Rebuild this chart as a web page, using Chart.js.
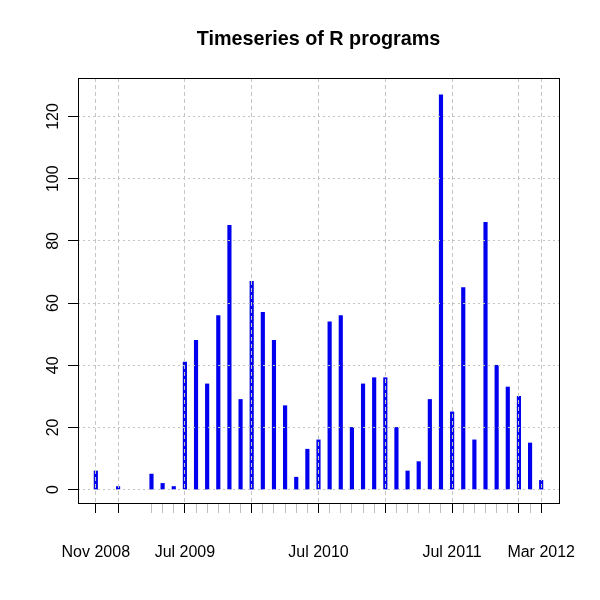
<!DOCTYPE html>
<html>
<head>
<meta charset="utf-8">
<script src="https://cdn.jsdelivr.net/npm/chart.js@4"></script>
<style>
html,body{margin:0;padding:0;background:#fff;}
canvas{display:block;}
</style>
</head>
<body>
<canvas id="c" width="600" height="600"></canvas>
<script>
// ---- data ----
const months = [
  "2008-11","2009-01","2009-04","2009-05","2009-06","2009-07","2009-08","2009-09","2009-10","2009-11","2009-12",
  "2010-01","2010-02","2010-03","2010-04","2010-05","2010-06","2010-07","2010-08","2010-09","2010-10","2010-11","2010-12",
  "2011-01","2011-02","2011-03","2011-04","2011-05","2011-06","2011-07","2011-08","2011-09","2011-10","2011-11","2011-12",
  "2012-01","2012-02","2012-03"
];
const programs = [
  6, 1, 5, 2, 1, 41, 48, 34, 56, 85, 29,
  67, 57, 48, 27, 4, 13, 16, 54, 56, 20, 34, 36,
  36, 20, 6, 9, 29, 127, 25, 65, 16, 86, 40, 33,
  30, 15, 3
];
const majorMonths = ["2008-11","2009-01","2009-07","2010-01","2010-07","2011-01","2011-07","2012-01","2012-03"];
const labelMonths = {"2008-11":"Nov 2008","2009-07":"Jul 2009","2010-07":"Jul 2010","2011-07":"Jul 2011","2012-03":"Mar 2012"};
const yTicks = [0, 20, 40, 60, 80, 100, 120];

// ---- helpers ----
function monthIndex(s){ const [y,m] = s.split("-").map(Number); return (y-2008)*12 + (m-11); }
const points = months.map((m,i) => ({x: monthIndex(m), y: programs[i]}));
const majorIdx = majorMonths.map(monthIndex);
const labelByIdx = {};
Object.keys(labelMonths).forEach(k => { labelByIdx[monthIndex(k)] = labelMonths[k]; });
const allTickIdx = Array.from(new Set(majorIdx.concat(months.map(monthIndex)))).sort((a,b)=>a-b);
const FONT = '"Liberation Sans", Arial, sans-serif';
const GRID = '#c4c4c4';

const framePlugin = {
  id: 'frame',
  afterDraw(chart){
    const {ctx, chartArea:a} = chart;
    ctx.save();
    ctx.strokeStyle = '#000'; ctx.lineWidth = 1;
    ctx.strokeRect(Math.round(a.left)+0.5, Math.round(a.top)+0.5, Math.round(a.right-a.left), Math.round(a.bottom-a.top));
    // rotated y tick labels (R style)
    const ys = chart.scales.y;
    ctx.fillStyle = '#000';
    ctx.font = '16px ' + FONT;
    ctx.textAlign = 'center';
    ctx.textBaseline = 'alphabetic';
    ys.ticks.forEach(t => {
      const py = ys.getPixelForValue(t.value);
      ctx.save();
      ctx.translate(57.5, py);
      ctx.rotate(-Math.PI/2);
      ctx.fillText(String(t.value), 0, 0);
      ctx.restore();
    });
    ctx.restore();
  }
};

new Chart(document.getElementById('c'), {
  type: 'bar',
  data: {
    datasets: [{
      data: points,
      backgroundColor: '#0000ee',
      borderWidth: 0,
      barThickness: 3.5
    }]
  },
  options: {
    responsive: false,
    animation: false,
    events: [],
    layout: { padding: { left: 78, right: 41, top: 0, bottom: 0 } },
    plugins: {
      legend: { display: false },
      tooltip: { enabled: false },
      title: {
        display: true,
        text: 'Timeseries of R programs',
        color: '#000',
        font: { family: FONT, size: 19.8, weight: 'bold' },
        padding: { top: 27.7, bottom: 26.5 }
      }
    },
    scales: {
      x: {
        type: 'linear',
        min: -1.6, max: 41.6,
        offset: false,
        afterBuildTicks(s){ s.ticks = allTickIdx.map(v => ({value: v})); },
        afterFit(s){ s.height = 97; s.paddingLeft = 0; s.paddingRight = 0; },
        border: { display: false, dash: [4, 3] },
        grid: {
          z: 1,
          offset: false,
          tickLength: 10,
          color: ctx => (ctx.tick && majorIdx.includes(ctx.tick.value)) ? GRID : 'rgba(0,0,0,0)',
          tickColor: ctx => (ctx.tick && majorIdx.includes(ctx.tick.value)) ? '#000' : '#c0c0c0',
          tickBorderDash: [0, 0]
        },
        ticks: {
          autoSkip: false,
          maxRotation: 0, minRotation: 0,
          padding: 30,
          color: '#000',
          font: { family: FONT, size: 16 },
          callback: v => labelByIdx[v] || ''
        }
      },
      y: {
        type: 'linear',
        min: -4.3, max: 132.4,
        afterBuildTicks(s){ s.ticks = yTicks.map(v => ({value: v})); },
        afterFit(s){ s.width = 0; s.paddingTop = 0; s.paddingBottom = 0; },
        border: { display: false, dash: [2, 3] },
        grid: {
          z: 1,
          tickLength: 10,
          color: GRID,
          tickColor: '#000',
          tickBorderDash: [0, 0]
        },
        ticks: { display: false }
      }
    }
  },
  plugins: [framePlugin]
});
</script>
</body>
</html>
